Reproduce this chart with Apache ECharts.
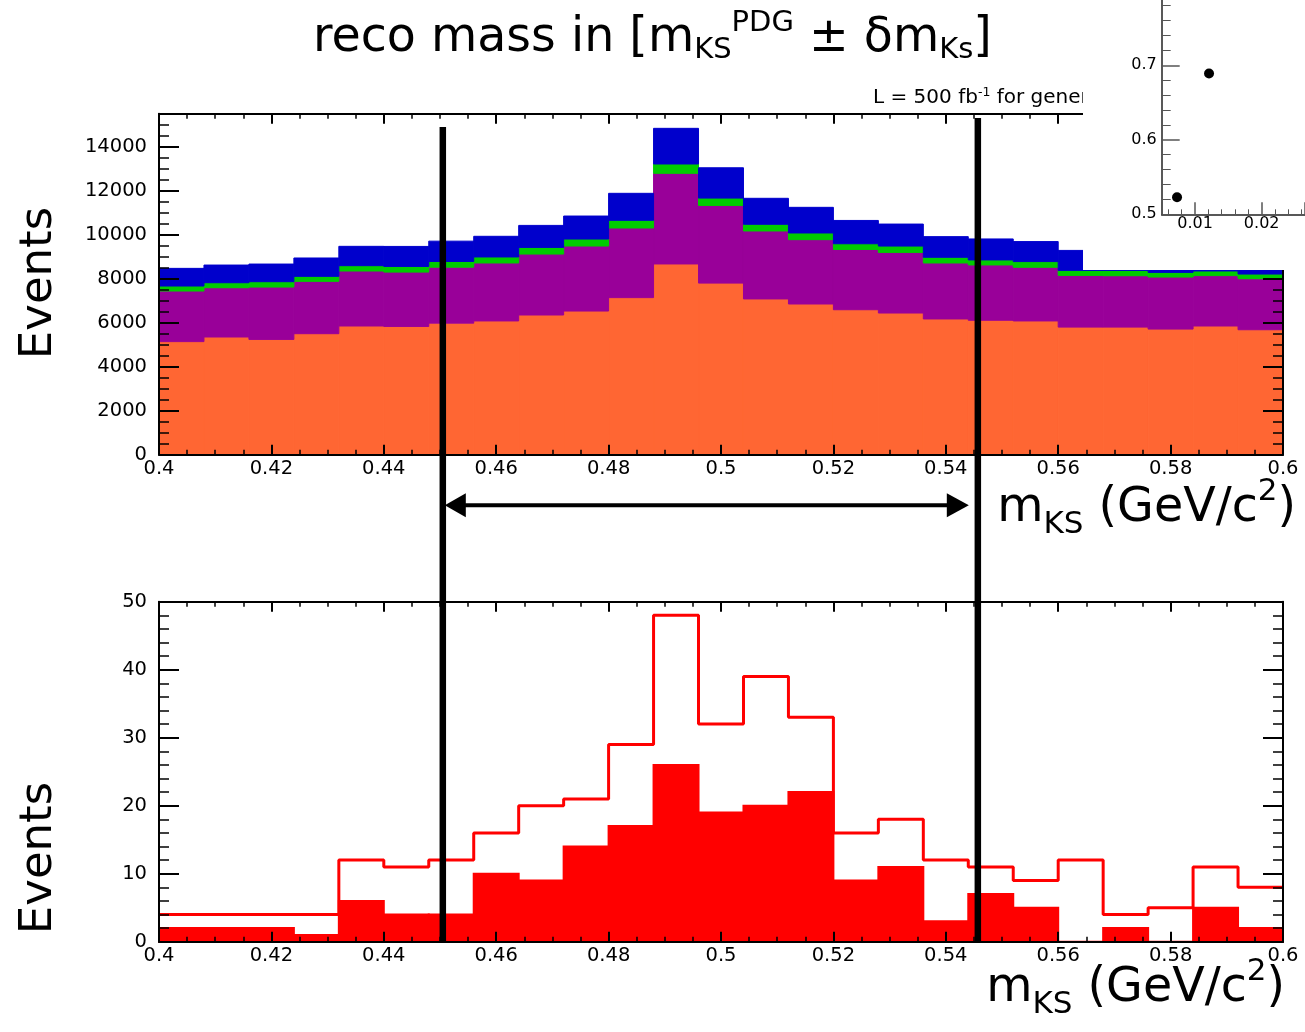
<!DOCTYPE html>
<html><head><meta charset="utf-8">
<script src="https://cdn.jsdelivr.net/npm/echarts@6/dist/echarts.min.js"></script>
<style>html,body{margin:0;padding:0;background:#fff}#c{width:1305px;height:1032px}</style>
</head><body><div id="c"></div>
<script>
// ---------------- data ----------------
const xMin = 0.4, xMax = 0.6, binWidth = 0.008;
const binEdges = [0.400,0.408,0.416,0.424,0.432,0.440,0.448,0.456,0.464,0.472,0.480,0.488,0.496,
                  0.504,0.512,0.520,0.528,0.536,0.544,0.552,0.560,0.568,0.576,0.584,0.592,0.600];
// top panel: stacked background components (events per bin)
const bkgOrange = [5140,5350,5240,5500,5850,5830,5980,6080,6350,6530,7140,8670,7800,7080,6850,6590,6440,6170,6110,6080,5800,5800,5710,5850,5680];
const bkgPurple = [2300,2240,2380,2380,2500,2470,2545,2635,2770,2955,3165,4120,3530,3090,2925,2740,2755,2545,2515,2440,2350,2335,2365,2290,2320];
const bkgGreen  = [227,227,243,227,242,258,258,273,303,318,348,424,334,303,303,258,288,258,228,258,227,242,212,212,212];
const bkgBlue   = [803,803,803,834,879,909,924,939,1000,1045,1228,1621,1378,1181,1166,1060,1000,939,954,909,909,900,900,900,900];
// bottom panel: signal histograms
const sigSelected = [2,2,2,1,6,4,4,10,9,14,17,26,19,20,22,9,11,3,7,5,0,2,0,5,2];
const sigAll      = [4,4,4,4,12,11,12,16,20,21,29,48,32,39,33,16,18,12,11,9,12,4,5,11,8];
// inset points
const insetX = [0.0073, 0.0121];
const insetY = [0.523, 0.689];
// mass window [m_KS^PDG ± delta]
const cutWindow = [0.4505, 0.5457];
const cutTopValues = [14900, 15300];
const arrowLevel = -2300;

const colOrange = '#ff6633', colPurple = '#990099', colGreen = '#00cc00', colBlue = '#0000cc', colRed = '#ff0000';
const FONT = '"DejaVu Sans"';

// ---------------- build series data ----------------
function stackData(layers) {
  const out = layers.map(() => []);
  for (let i = 0; i < binEdges.length - 1; i++) {
    let base = 0;
    layers.forEach((arr, k) => {
      out[k].push([binEdges[i], binEdges[i + 1], base, base + arr[i]]);
      base += arr[i];
    });
  }
  return out;
}
const stacked = stackData([bkgOrange, bkgPurple, bkgGreen, bkgBlue]);
const selData = sigSelected.map((v, i) => [binEdges[i], binEdges[i + 1], 0, v]);
const allLine = sigAll.map((v, i) => [binEdges[i], v]).concat([[binEdges[binEdges.length - 1], sigAll[sigAll.length - 1]]]);

function rectRender(color, lw) {
  return function (params, api) {
    const a = api.coord([api.value(0), api.value(2)]);
    const b = api.coord([api.value(1), api.value(3)]);
    return { type: 'rect', shape: { x: a[0], y: b[1], width: b[0] - a[0], height: a[1] - b[1] },
      style: { fill: color, stroke: color, lineWidth: lw } };
  };
}
const plainNum = v => String(v);

// ---------------- axes ----------------
function xAx(grid, pos, showLabel) {
  return { type: 'value', gridIndex: grid, position: pos, min: xMin, max: xMax, interval: 0.02, z: 10,
    axisLine: { show: true, onZero: false, lineStyle: { color: '#000', width: 2 } },
    axisTick: { show: true, inside: true, length: 10, lineStyle: { color: '#000', width: 2 } },
    minorTick: { show: true, splitNumber: 4, length: 5, lineStyle: { color: '#000', width: 1.5 } },
    axisLabel: { show: showLabel, margin: 4, color: '#000', fontFamily: FONT, fontSize: 19.5, formatter: plainNum },
    splitLine: { show: false }, minorSplitLine: { show: false } };
}
function yAx(grid, pos, showLabel, max, interval, minorSplit) {
  return { type: 'value', gridIndex: grid, position: pos, min: 0, max: max, interval: interval, z: 10,
    axisLine: { show: true, onZero: false, lineStyle: { color: '#000', width: 2 } },
    axisTick: { show: true, inside: true, length: 20, lineStyle: { color: '#000', width: 2 } },
    minorTick: { show: true, splitNumber: minorSplit, length: 10, lineStyle: { color: '#000', width: 1.5 } },
    axisLabel: { show: showLabel, margin: 12, color: '#000', fontFamily: FONT, fontSize: 19.5, formatter: plainNum,
      showMaxLabel: max % interval === 0 },
    splitLine: { show: false }, minorSplitLine: { show: false } };
}

const option = {
  backgroundColor: '#fff',
  animation: false,
  grid: [
    { left: 159, top: 113.7, width: 1124, height: 341, outerBoundsMode: 'none', containLabel: false },
    { left: 159, top: 601.7, width: 1124, height: 340, outerBoundsMode: 'none', containLabel: false },
    { left: 1161.7, top: -9.2, width: 143.3, height: 223.5, outerBoundsMode: 'none', containLabel: false }
  ],
  xAxis: [
    xAx(0, 'bottom', true), xAx(0, 'top', false),
    xAx(1, 'bottom', true), xAx(1, 'top', false),
    { type: 'value', gridIndex: 2, position: 'bottom', min: 0.005, max: 0.0265, splitNumber: 2, z: 30,
      axisLine: { show: true, onZero: false, lineStyle: { color: '#222', width: 1.5 } },
      axisTick: { show: true, inside: true, length: 12, lineStyle: { color: '#555', width: 1.5 } },
      minorTick: { show: true, splitNumber: 5, length: 5, lineStyle: { color: '#555', width: 1 } },
      axisLabel: { margin: 2, color: '#000', fontFamily: FONT, fontSize: 16, showMinLabel: false, showMaxLabel: false, formatter: plainNum },
      splitLine: { show: false } }
  ],
  yAxis: [
    yAx(0, 'left', true, 15500, 2000, 4), yAx(0, 'right', false, 15500, 2000, 4),
    yAx(1, 'left', true, 50, 10, 5), yAx(1, 'right', false, 50, 10, 5),
    { type: 'value', gridIndex: 2, position: 'left', min: 0.5, max: 0.8, interval: 0.1, z: 30,
      axisLine: { show: true, onZero: false, lineStyle: { color: '#222', width: 1.5 } },
      axisTick: { show: true, inside: true, length: 18, lineStyle: { color: '#555', width: 1.5 } },
      minorTick: { show: true, splitNumber: 5, length: 9, lineStyle: { color: '#555', width: 1 } },
      axisLabel: { margin: 5, color: '#000', fontFamily: FONT, fontSize: 16, formatter: plainNum },
      splitLine: { show: false } }
  ],
  series: [
    { type: 'custom', xAxisIndex: 0, yAxisIndex: 0, z: 2, renderItem: rectRender(colOrange, 1), data: stacked[0], encode: { x: [0, 1], y: [2, 3] } },
    { type: 'custom', xAxisIndex: 0, yAxisIndex: 0, z: 2, renderItem: rectRender(colPurple, 1), data: stacked[1], encode: { x: [0, 1], y: [2, 3] } },
    { type: 'custom', xAxisIndex: 0, yAxisIndex: 0, z: 2, renderItem: rectRender(colGreen, 1), data: stacked[2], encode: { x: [0, 1], y: [2, 3] } },
    { type: 'custom', xAxisIndex: 0, yAxisIndex: 0, z: 2, renderItem: rectRender(colBlue, 1), data: stacked[3], encode: { x: [0, 1], y: [2, 3] } },
    { type: 'custom', xAxisIndex: 2, yAxisIndex: 2, z: 2, renderItem: rectRender(colRed, 2), data: selData, encode: { x: [0, 1], y: [2, 3] } },
    { type: 'line', xAxisIndex: 2, yAxisIndex: 2, z: 3, step: 'end', data: allLine, showSymbol: false, symbol: 'none',
      lineStyle: { color: colRed, width: 3 }, itemStyle: { color: colRed } },
    { type: 'scatter', xAxisIndex: 4, yAxisIndex: 4, z: 30, symbol: 'circle', symbolSize: 10,
      itemStyle: { color: '#000', opacity: 1 }, data: insetX.map((x, i) => [x, insetY[i]]) }
  ]
};

const chart = echarts.init(document.getElementById('c'), null, { renderer: 'canvas' });
chart.setOption(option);

// ---------------- annotations ----------------
const px = v => chart.convertToPixel({ xAxisIndex: 0 }, v);
const pyTop = v => chart.convertToPixel({ yAxisIndex: 0 }, v);
const pyBot = v => chart.convertToPixel({ yAxisIndex: 2 }, v);

const MID = 0.34;
const mctx = document.createElement('canvas').getContext('2d');
function mathText(parts, anchorX, baseline, align, baseSize) {
  const items = parts.map(p => {
    const fs = p.size || baseSize;
    const font = fs + 'px ' + FONT;
    mctx.font = font;
    return { t: p.t, fs: fs, font: font, w: mctx.measureText(p.t).width, dy: p.dy || 0 };
  });
  const total = items.reduce((s, it) => s + it.w, 0);
  let x = align === 'right' ? anchorX - total : (align === 'center' ? anchorX - total / 2 : anchorX);
  return items.map(it => {
    const el = { type: 'text', x: x, y: baseline + it.dy - MID * it.fs, z: 40,
      style: { text: it.t, font: it.font, fill: '#000', align: 'left', verticalAlign: 'middle', textAlign: 'left', textVerticalAlign: 'middle' } };
    x += it.w;
    return el;
  });
}

const graphics = [];
// white inset pad
graphics.push({ type: 'rect', z: 20, shape: { x: 1083, y: 0, width: 222, height: 270 }, style: { fill: '#fff' } });

// vertical window lines
cutWindow.forEach((c, k) => {
  graphics.push({ type: 'line', z: 40, shape: { x1: px(c), y1: pyTop(cutTopValues[k]), x2: px(c), y2: pyBot(0) },
    style: { stroke: '#000', lineWidth: 6.5 } });
});
// double arrow
const ay = pyTop(arrowLevel);
const aL = px(cutWindow[0]) + 2, aR = px(cutWindow[1]) - 9;
graphics.push({ type: 'line', z: 40, shape: { x1: aL + 10, y1: ay, x2: aR - 10, y2: ay }, style: { stroke: '#000', lineWidth: 4 } });
graphics.push({ type: 'polygon', z: 40, shape: { points: [[aL, ay], [aL + 21, ay - 12], [aL + 21, ay + 12]] }, style: { fill: '#000' } });
graphics.push({ type: 'polygon', z: 40, shape: { points: [[aR, ay], [aR - 22, ay - 12], [aR - 22, ay + 12]] }, style: { fill: '#000' } });

// title
mathText([{ t: 'reco mass in [m' }, { t: 'KS', size: 29, dy: 5 }, { t: 'PDG', size: 29, dy: -22 },
  { t: ' \u00B1 \u03B4m' }, { t: 'Ks', size: 29, dy: 5 }, { t: ']' }], 313, 55, 'left', 47.5).forEach(e => graphics.push(e));
// luminosity text
mathText([{ t: 'L = 500 fb' }, { t: '-1', size: 12.5, dy: -8 }, { t: ' for generated' }], 873, 105, 'left', 20)
  .forEach(e => { e.z = 10; graphics.push(e); });
// x-axis titles
mathText([{ t: 'm' }, { t: 'KS', size: 31, dy: 10 }, { t: ' (GeV/c' }, { t: '2', size: 31, dy: -23 }, { t: ')' }], 1296, 525, 'right', 47.5)
  .forEach(e => graphics.push(e));
mathText([{ t: 'm' }, { t: 'KS', size: 31, dy: 10 }, { t: ' (GeV/c' }, { t: '2', size: 31, dy: -23 }, { t: ')' }], 1285, 1005, 'right', 47.5)
  .forEach(e => graphics.push(e));
// y-axis titles
[[39.5, 283], [39.5, 858]].forEach(p => {
  graphics.push({ type: 'text', x: p[0], y: p[1], rotation: Math.PI / 2, z: 40,
    style: { text: 'Events', font: '45px ' + FONT, fill: '#000', align: 'center', verticalAlign: 'middle', textAlign: 'center', textVerticalAlign: 'middle' } });
});

chart.setOption({ graphic: graphics });
</script>
</body></html>
